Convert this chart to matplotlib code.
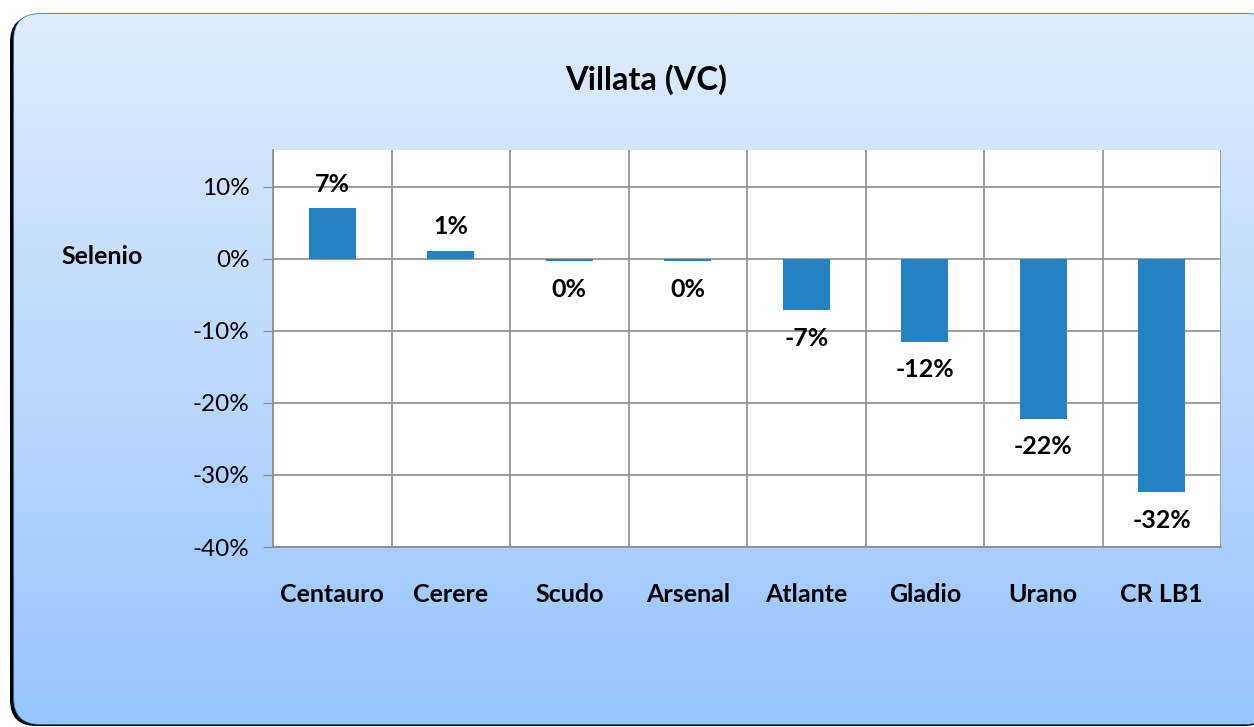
import matplotlib.pyplot as plt
import numpy as np
from matplotlib.patches import FancyBboxPatch
from matplotlib.ticker import FuncFormatter, MultipleLocator

categories = ["Centauro", "Cerere", "Scudo", "Arsenal", "Atlante", "Gladio", "Urano", "CR LB1"]
values = [0.070, 0.011, -0.003, -0.003, -0.071, -0.115, -0.222, -0.324]
labels = ["7%", "1%", "0%", "0%", "-7%", "-12%", "-22%", "-32%"]

plt.rcParams["font.family"] = ["Lato", "DejaVu Sans"]

fig = plt.figure(figsize=(12.54, 7.27), dpi=100)

# background with gradient inside a rounded box
bg = fig.add_axes([0, 0, 1, 1], zorder=0)
bg.set_xlim(0, 1254)
bg.set_ylim(727, 0)
bg.axis("off")
shadow = FancyBboxPatch((10, 16), 1260, 710, boxstyle="round,pad=0,rounding_size=26",
                        fc="black", ec="none")
bg.add_patch(shadow)
box = FancyBboxPatch((14, 14), 1260, 710, boxstyle="round,pad=0,rounding_size=26",
                     fc="none", ec="#2a7ab8", lw=1.2)
bg.add_patch(box)
grad = np.linspace(0, 1, 256).reshape(-1, 1)
top = np.array([0xDF, 0xEC, 0xFD]) / 255
bot = np.array([0x97, 0xC5, 0xFC]) / 255
img = top + grad[..., None] * (bot - top)
im = bg.imshow(img, extent=[14, 1274, 724, 14], aspect="auto", zorder=1)
im.set_clip_path(box)

ax = fig.add_axes([273 / 1254, 1 - 547 / 727, 948 / 1254, 397 / 727], zorder=2)
x = np.arange(len(categories))
ax.bar(x, values, width=0.4, color="#2683C3", zorder=3)

for xi, v, lab in zip(x, values, labels):
    if v >= 0:
        ax.annotate(lab, (xi, v), xytext=(0, 9), textcoords="offset points",
                    ha="center", va="bottom", fontsize=18, fontweight="bold")
    else:
        ax.annotate(lab, (xi, v), xytext=(0, -12), textcoords="offset points",
                    ha="center", va="top", fontsize=18, fontweight="bold")

ax.set_xlim(-0.5, len(categories) - 0.5)
ax.set_ylim(-0.40, 0.151)
ax.yaxis.set_major_locator(MultipleLocator(0.10))
ax.yaxis.set_major_formatter(FuncFormatter(lambda v, p: f"{v * 100:.0f}%"))
ax.set_xticks(x)
ax.set_xticklabels(categories, fontsize=18, fontweight="bold")
ax.set_xticks(np.arange(-0.5, len(categories)), minor=True)
ax.tick_params(axis="x", which="major", length=0, pad=26)
ax.tick_params(axis="x", which="minor", length=0)
ax.tick_params(axis="y", labelsize=17.5, length=7, color="#888888", pad=10)
ax.grid(True, axis="y", color="#8c8c8c", lw=1.2, zorder=1)
ax.grid(True, axis="x", which="minor", color="#8c8c8c", lw=1.2, zorder=1)
for s in ["top", "right"]:
    ax.spines[s].set_visible(False)
for s in ["left", "bottom"]:
    ax.spines[s].set_color("#8c8c8c")
    ax.spines[s].set_linewidth(1.2)
ax.set_facecolor("white")

fig.text(646 / 1254, 1 - 80 / 727, "Villata (VC)", ha="center", va="center",
         fontsize=23.5, fontweight="bold")
fig.text(102 / 1254, 1 - 256 / 727, "Selenio", ha="center", va="center",
         fontsize=18, fontweight="bold")

fig.savefig("out.png", dpi=100)
